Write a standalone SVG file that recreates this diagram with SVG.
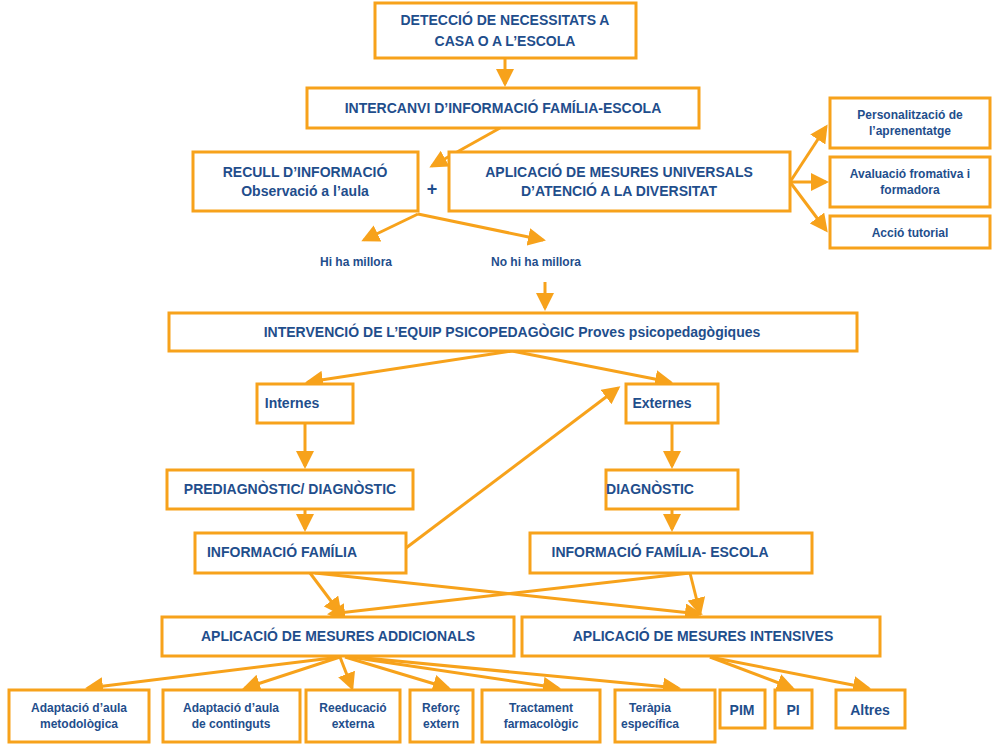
<svg xmlns="http://www.w3.org/2000/svg" width="1000" height="750" viewBox="0 0 1000 750">
<style>
.b{fill:#fff;stroke:#f7a21b;stroke-width:3}
text{font-family:"Liberation Sans",Arial,sans-serif;font-weight:bold;fill:#1f4e8c;text-anchor:middle}
.t{font-size:14px}.s{font-size:12px}
.c line{stroke:#f7a21b;stroke-width:3;marker-end:url(#a)}
</style>
<defs><marker id="a" markerWidth="6" markerHeight="6" refX="5" refY="3" orient="auto" markerUnits="strokeWidth"><path d="M0,0L6,3L0,6z" fill="#f7a21b"/></marker></defs>
<rect width="1000" height="750" fill="#fff"/>
<g class="c">
<line x1="505" y1="58" x2="505" y2="84"/>
<line x1="500" y1="128" x2="432" y2="166"/>
<line x1="418" y1="214" x2="364" y2="240"/>
<line x1="418" y1="214" x2="543" y2="240"/>
<line x1="545" y1="282" x2="545" y2="308"/>
<line x1="790" y1="182" x2="826" y2="127"/>
<line x1="790" y1="182" x2="826" y2="182"/>
<line x1="790" y1="182" x2="826" y2="230"/>
<line x1="512" y1="351" x2="308" y2="382"/>
<line x1="512" y1="351" x2="670" y2="382"/>
<line x1="305" y1="423" x2="305" y2="466"/>
<line x1="672" y1="423" x2="672" y2="466"/>
<line x1="305" y1="509" x2="305" y2="529"/>
<line x1="672" y1="509" x2="672" y2="529"/>
<line x1="406" y1="548" x2="618" y2="388"/>
<line x1="310" y1="573" x2="340" y2="613"/>
<line x1="315" y1="573" x2="700" y2="614"/>
<line x1="690" y1="573" x2="330" y2="614"/>
<line x1="690" y1="573" x2="700" y2="613"/>
<line x1="340" y1="657" x2="88" y2="688"/>
<line x1="340" y1="657" x2="245" y2="688"/>
<line x1="340" y1="657" x2="352" y2="688"/>
<line x1="345" y1="657" x2="448" y2="688"/>
<line x1="350" y1="657" x2="558" y2="688"/>
<line x1="355" y1="657" x2="678" y2="688"/>
<line x1="710" y1="657" x2="792" y2="688"/>
<line x1="710" y1="657" x2="868" y2="688"/>
</g>
<g id="n1"><rect class="b" x="375" y="3" width="261" height="55"/><text class="t" x="505" y="25">DETECCIÓ DE NECESSITATS A</text><text class="t" x="505" y="46">CASA O A L’ESCOLA</text></g>
<g id="n2"><rect class="b" x="307" y="88" width="392" height="40"/><text class="t" x="503" y="113">INTERCANVI D’INFORMACIÓ FAMÍLIA-ESCOLA</text></g>
<g id="n3"><rect class="b" x="193" y="152" width="225" height="59"/><text class="t" x="305" y="177">RECULL D’INFORMACIÓ</text><text class="t" x="305" y="196">Observació a l’aula</text></g>
<text x="432" y="195" style="font-size:18px">+</text>
<g id="n4"><rect class="b" x="449" y="152" width="341" height="59"/><text class="t" x="619" y="177">APLICACIÓ DE MESURES UNIVERSALS</text><text class="t" x="619" y="196">D’ATENCIÓ A LA DIVERSITAT</text></g>
<g id="n5"><rect class="b" x="830" y="98" width="160" height="50"/><text class="s" x="910" y="119">Personalització de</text><text class="s" x="910" y="135">l’aprenentatge</text></g>
<g id="n6"><rect class="b" x="830" y="157" width="160" height="50"/><text class="s" x="910" y="178">Avaluació fromativa i</text><text class="s" x="910" y="194">formadora</text></g>
<g id="n7"><rect class="b" x="830" y="216" width="160" height="32"/><text class="s" x="910" y="237">Acció tutorial</text></g>
<text class="s" x="356" y="266">Hi ha millora</text>
<text class="s" x="536" y="266">No hi ha millora</text>
<g id="n8"><rect class="b" x="169" y="313" width="688" height="38"/><text class="t" x="512" y="337">INTERVENCIÓ DE L’EQUIP PSICOPEDAGÒGIC  Proves psicopedagògiques</text></g>
<g id="n9"><rect class="b" x="257" y="384" width="96" height="39"/><text class="t" x="292" y="408">Internes</text></g>
<g id="n10"><rect class="b" x="626" y="384" width="92" height="39"/><text class="t" x="662" y="408">Externes</text></g>
<g id="n11"><rect class="b" x="167" y="470" width="246" height="39"/><text class="t" x="290" y="494">PREDIAGNÒSTIC/ DIAGNÒSTIC</text></g>
<g id="n12"><rect class="b" x="606" y="470" width="132" height="39"/><text class="t" x="650" y="494">DIAGNÒSTIC</text></g>
<g id="n13"><rect class="b" x="195" y="533" width="211" height="40"/><text class="t" x="282" y="557">INFORMACIÓ FAMÍLIA</text></g>
<g id="n14"><rect class="b" x="530" y="533" width="282" height="40"/><text class="t" x="660" y="557">INFORMACIÓ FAMÍLIA- ESCOLA</text></g>
<g id="n15"><rect class="b" x="162" y="617" width="352" height="39"/><text class="t" x="338" y="641">APLICACIÓ DE MESURES ADDICIONALS</text></g>
<g id="n16"><rect class="b" x="522" y="617" width="358" height="39"/><text class="t" x="703" y="641">APLICACIÓ DE MESURES INTENSIVES</text></g>
<g id="n17"><rect class="b" x="9" y="690" width="140" height="52"/><text class="s" x="79" y="712">Adaptació d’aula</text><text class="s" x="79" y="728">metodològica</text></g>
<g id="n18"><rect class="b" x="163" y="690" width="137" height="52"/><text class="s" x="231" y="712">Adaptació d’aula</text><text class="s" x="231" y="728">de continguts</text></g>
<g id="n19"><rect class="b" x="306" y="690" width="94" height="52"/><text class="s" x="353" y="712">Reeducació</text><text class="s" x="353" y="728">externa</text></g>
<g id="n20"><rect class="b" x="410" y="690" width="63" height="52"/><text class="s" x="441" y="712">Reforç</text><text class="s" x="441" y="728">extern</text></g>
<g id="n21"><rect class="b" x="482" y="690" width="118" height="52"/><text class="s" x="541" y="712">Tractament</text><text class="s" x="541" y="728">farmacològic</text></g>
<g id="n22"><rect class="b" x="615" y="690" width="100" height="52"/><text class="s" x="650" y="712">Teràpia</text><text class="s" x="650" y="728">específica</text></g>
<g id="n23"><rect class="b" x="720" y="690" width="45" height="38"/><text class="t" x="742" y="715">PIM</text></g>
<g id="n24"><rect class="b" x="775" y="690" width="37" height="38"/><text class="t" x="793" y="715">PI</text></g>
<g id="n25"><rect class="b" x="836" y="690" width="69" height="38"/><text class="t" x="870" y="715">Altres</text></g>
</svg>
